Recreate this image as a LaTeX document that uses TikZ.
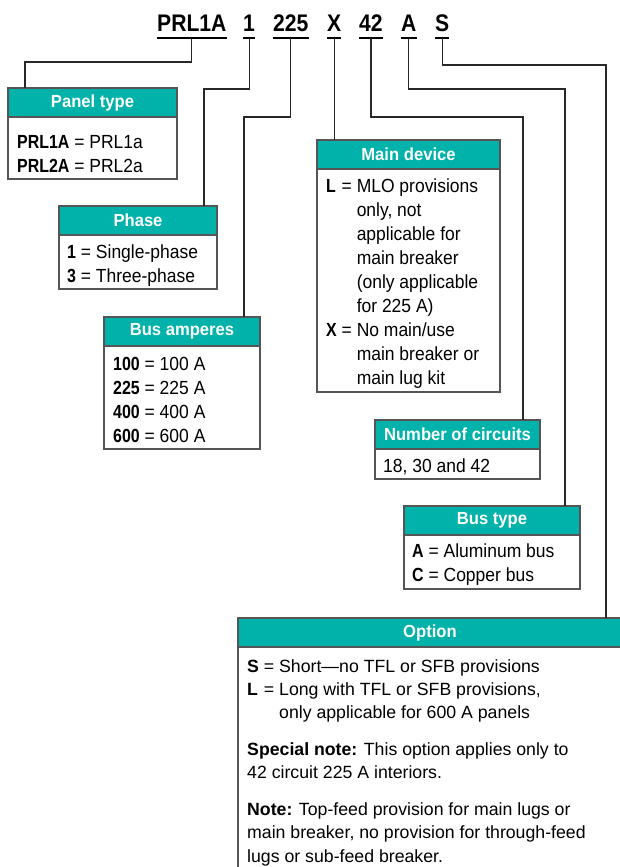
\documentclass[tikz,border=0pt]{standalone}
\usepackage{fontspec}
\setmainfont{Liberation Sans}
\newfontfamily\titlefont{Liberation Sans}[FakeStretch=0.88]
\newfontfamily\headfont{Liberation Sans}[FakeStretch=0.95]
\newfontfamily\condfont{Liberation Sans}[FakeStretch=0.92]
\newfontfamily\keyfont{Liberation Sans}[FakeStretch=0.84]
\usepackage{tikz}
\definecolor{headteal}{RGB}{0,178,170}
\definecolor{boxgray}{RGB}{85,85,85}
\definecolor{leadgray}{RGB}{40,40,40}
\newcommand\kb[1]{{\keyfont\bfseries #1}}
\tikzset{
  code/.style={anchor=base west, inner sep=0, font=\titlefont\bfseries\fontsize{24}{28}\selectfont},
  uline/.style={line width=2pt},
  lead/.style={draw=leadgray, line width=1.1pt},
  head/.style={draw=boxgray, line width=1.2pt, fill=headteal, text=white, inner sep=0, outer sep=0,
    minimum height=29, anchor=north west, font=\headfont\bfseries\fontsize{17.5}{20}\selectfont},
  boxline/.style={draw=boxgray, line width=1.2pt},
  body/.style={anchor=base west, inner sep=0, font=\condfont\fontsize{19}{24}\selectfont},
  optbody/.style={anchor=base west, inner sep=0, font=\fontsize{17.7}{23.3}\selectfont}
}

\begin{document}
\begin{tikzpicture}[x=1pt,y=-1pt]
        \useasboundingbox (0,0) rectangle (620,867);
        % catalog number
        \node[code] (tpanel) at (157,32) {PRL1A};
        \node[code] (tphase) at (243,32) {1};
        \node[code] (tbus) at (273,32) {225};
        \node[code] (tmain) at (327,32) {X};
        \node[code] (tcirc) at (359,32) {42};
        \node[code] (ttype) at (401,32) {A};
        \node[code] (topt) at (435,32) {S};
        \draw[uline] ([yshift=-6pt]tpanel.base west) -- ([yshift=-6pt]tpanel.base east);
        \draw[uline] ([yshift=-6pt]tphase.base west) -- ([yshift=-6pt]tphase.base east);
        \draw[uline] ([yshift=-6pt]tbus.base west) -- ([yshift=-6pt]tbus.base east);
        \draw[uline] ([yshift=-6pt]tmain.base west) -- ([yshift=-6pt]tmain.base east);
        \draw[uline] ([yshift=-6pt]tcirc.base west) -- ([yshift=-6pt]tcirc.base east);
        \draw[uline] ([yshift=-6pt]ttype.base west) -- ([yshift=-6pt]ttype.base east);
        \draw[uline] ([yshift=-6pt]topt.base west) -- ([yshift=-6pt]topt.base east);

        % Panel type
        \node[head, minimum width=169] (ptype) at (8,88) {Panel type};
        \draw[boxline] (ptype.south west) rectangle (177,179);
        \node[body] (ptypetxt) at (17,148) {\begin{tabular}[t]{@{}l@{\ }l@{\ }l@{}}
            \kb{PRL1A} & = & PRL1a\\
            \kb{PRL2A} & = & PRL2a
          \end{tabular}};

        % Phase
        \node[head, minimum width=158] (phase) at (59,206) {Phase};
        \draw[boxline] (phase.south west) rectangle (217,289);
        \node[body] (phasetxt) at (67,258) {\begin{tabular}[t]{@{}l@{\ }l@{\ }l@{}}
            \kb{1} & = & Single-phase\\
            \kb{3} & = & Three-phase
          \end{tabular}};

        % Bus amperes
        \node[head, minimum width=156] (bus) at (104,317) {Bus amperes};
        \draw[boxline] (bus.south west) rectangle (260,449);
        \node[body] (bustxt) at (113,370) {\begin{tabular}[t]{@{}l@{\ }l@{\ }l@{}}
            \kb{100} & = & 100 A\\
            \kb{225} & = & 225 A\\
            \kb{400} & = & 400 A\\
            \kb{600} & = & 600 A
          \end{tabular}};

        % Main device
        \node[head, minimum width=183] (main) at (317,140) {Main device};
        \draw[boxline] (main.south west) rectangle (500,392);
        \node[body] (maintxt) at (326,192) {\begin{tabular}[t]{@{}l@{\ }l@{\ }l@{}}
            \kb{L} & = & MLO provisions\\
             & & only, not\\
             & & applicable for\\
             & & main breaker\\
             & & (only applicable\\
             & & for 225 A)\\
            \kb{X} & = & No main/use\\
             & & main breaker or\\
             & & main lug kit
          \end{tabular}};

        % Number of circuits
        \node[head, minimum width=165] (circ) at (375,420) {Number of circuits};
        \draw[boxline] (circ.south west) rectangle (540,479);
        \node[body] (circtxt) at (383,472) {18, 30 and 42};

        % Bus type
        \node[head, minimum width=176] (btype) at (404,506) {Bus type};
        \draw[boxline] (btype.south west) rectangle (580,589);
        \node[body] (btypetxt) at (412,557) {\begin{tabular}[t]{@{}l@{\ }l@{\ }l@{}}
            \kb{A} & = & Aluminum bus\\
            \kb{C} & = & Copper bus
          \end{tabular}};

        % Option (runs off the page)
        \node[head, minimum width=392] (opt) at (238,618) {Option\hspace*{8pt}};
        \draw[boxline] (opt.south west) -- (238,880);
        \node[optbody] (opttxt) at (247,672) {\begin{tabular}[t]{@{}l@{\ }l@{\ }l@{}}
            \textbf{S} & = & Short---no TFL or SFB provisions\\
            \textbf{L} & = & Long with TFL or SFB provisions,\\
             & & only applicable for 600 A panels\\[13.5pt]
            \multicolumn{3}{@{}l@{}}{\textbf{Special note:} This option applies only to}\\
            \multicolumn{3}{@{}l@{}}{42 circuit 225 A interiors.}\\[13.5pt]
            \multicolumn{3}{@{}l@{}}{\textbf{Note:} Top-feed provision for main lugs or}\\
            \multicolumn{3}{@{}l@{}}{main breaker, no provision for through-feed}\\
            \multicolumn{3}{@{}l@{}}{lugs or sub-feed breaker.}
          \end{tabular}};

        % leaders
        \draw[lead] ([yshift=-6pt]tpanel.base) -- ++(0,24) -| ([xshift=17pt]ptype.north west);
        \draw[lead] ([yshift=-6pt]tphase.base) -- ++(0,51) -| ([xshift=-13pt]phase.north east);
        \draw[lead] ([yshift=-6pt]tbus.base) -- ++(0,79) -| ([xshift=-16pt]bus.north east);
        \draw[lead] ([yshift=-6pt]tmain.base) -- (tmain.base |- main.north);
        \draw[lead] ([yshift=-6pt]tcirc.base) -- ++(0,79) -| ([xshift=-17pt]circ.north east);
        \draw[lead] ([yshift=-6pt]ttype.base) -- ++(0,51) -| ([xshift=-15pt]btype.north east);
        \draw[lead] ([yshift=-6pt]topt.base) -- ++(0,27) -| ([xshift=368pt]opt.north west);
\end{tikzpicture}
\end{document}
